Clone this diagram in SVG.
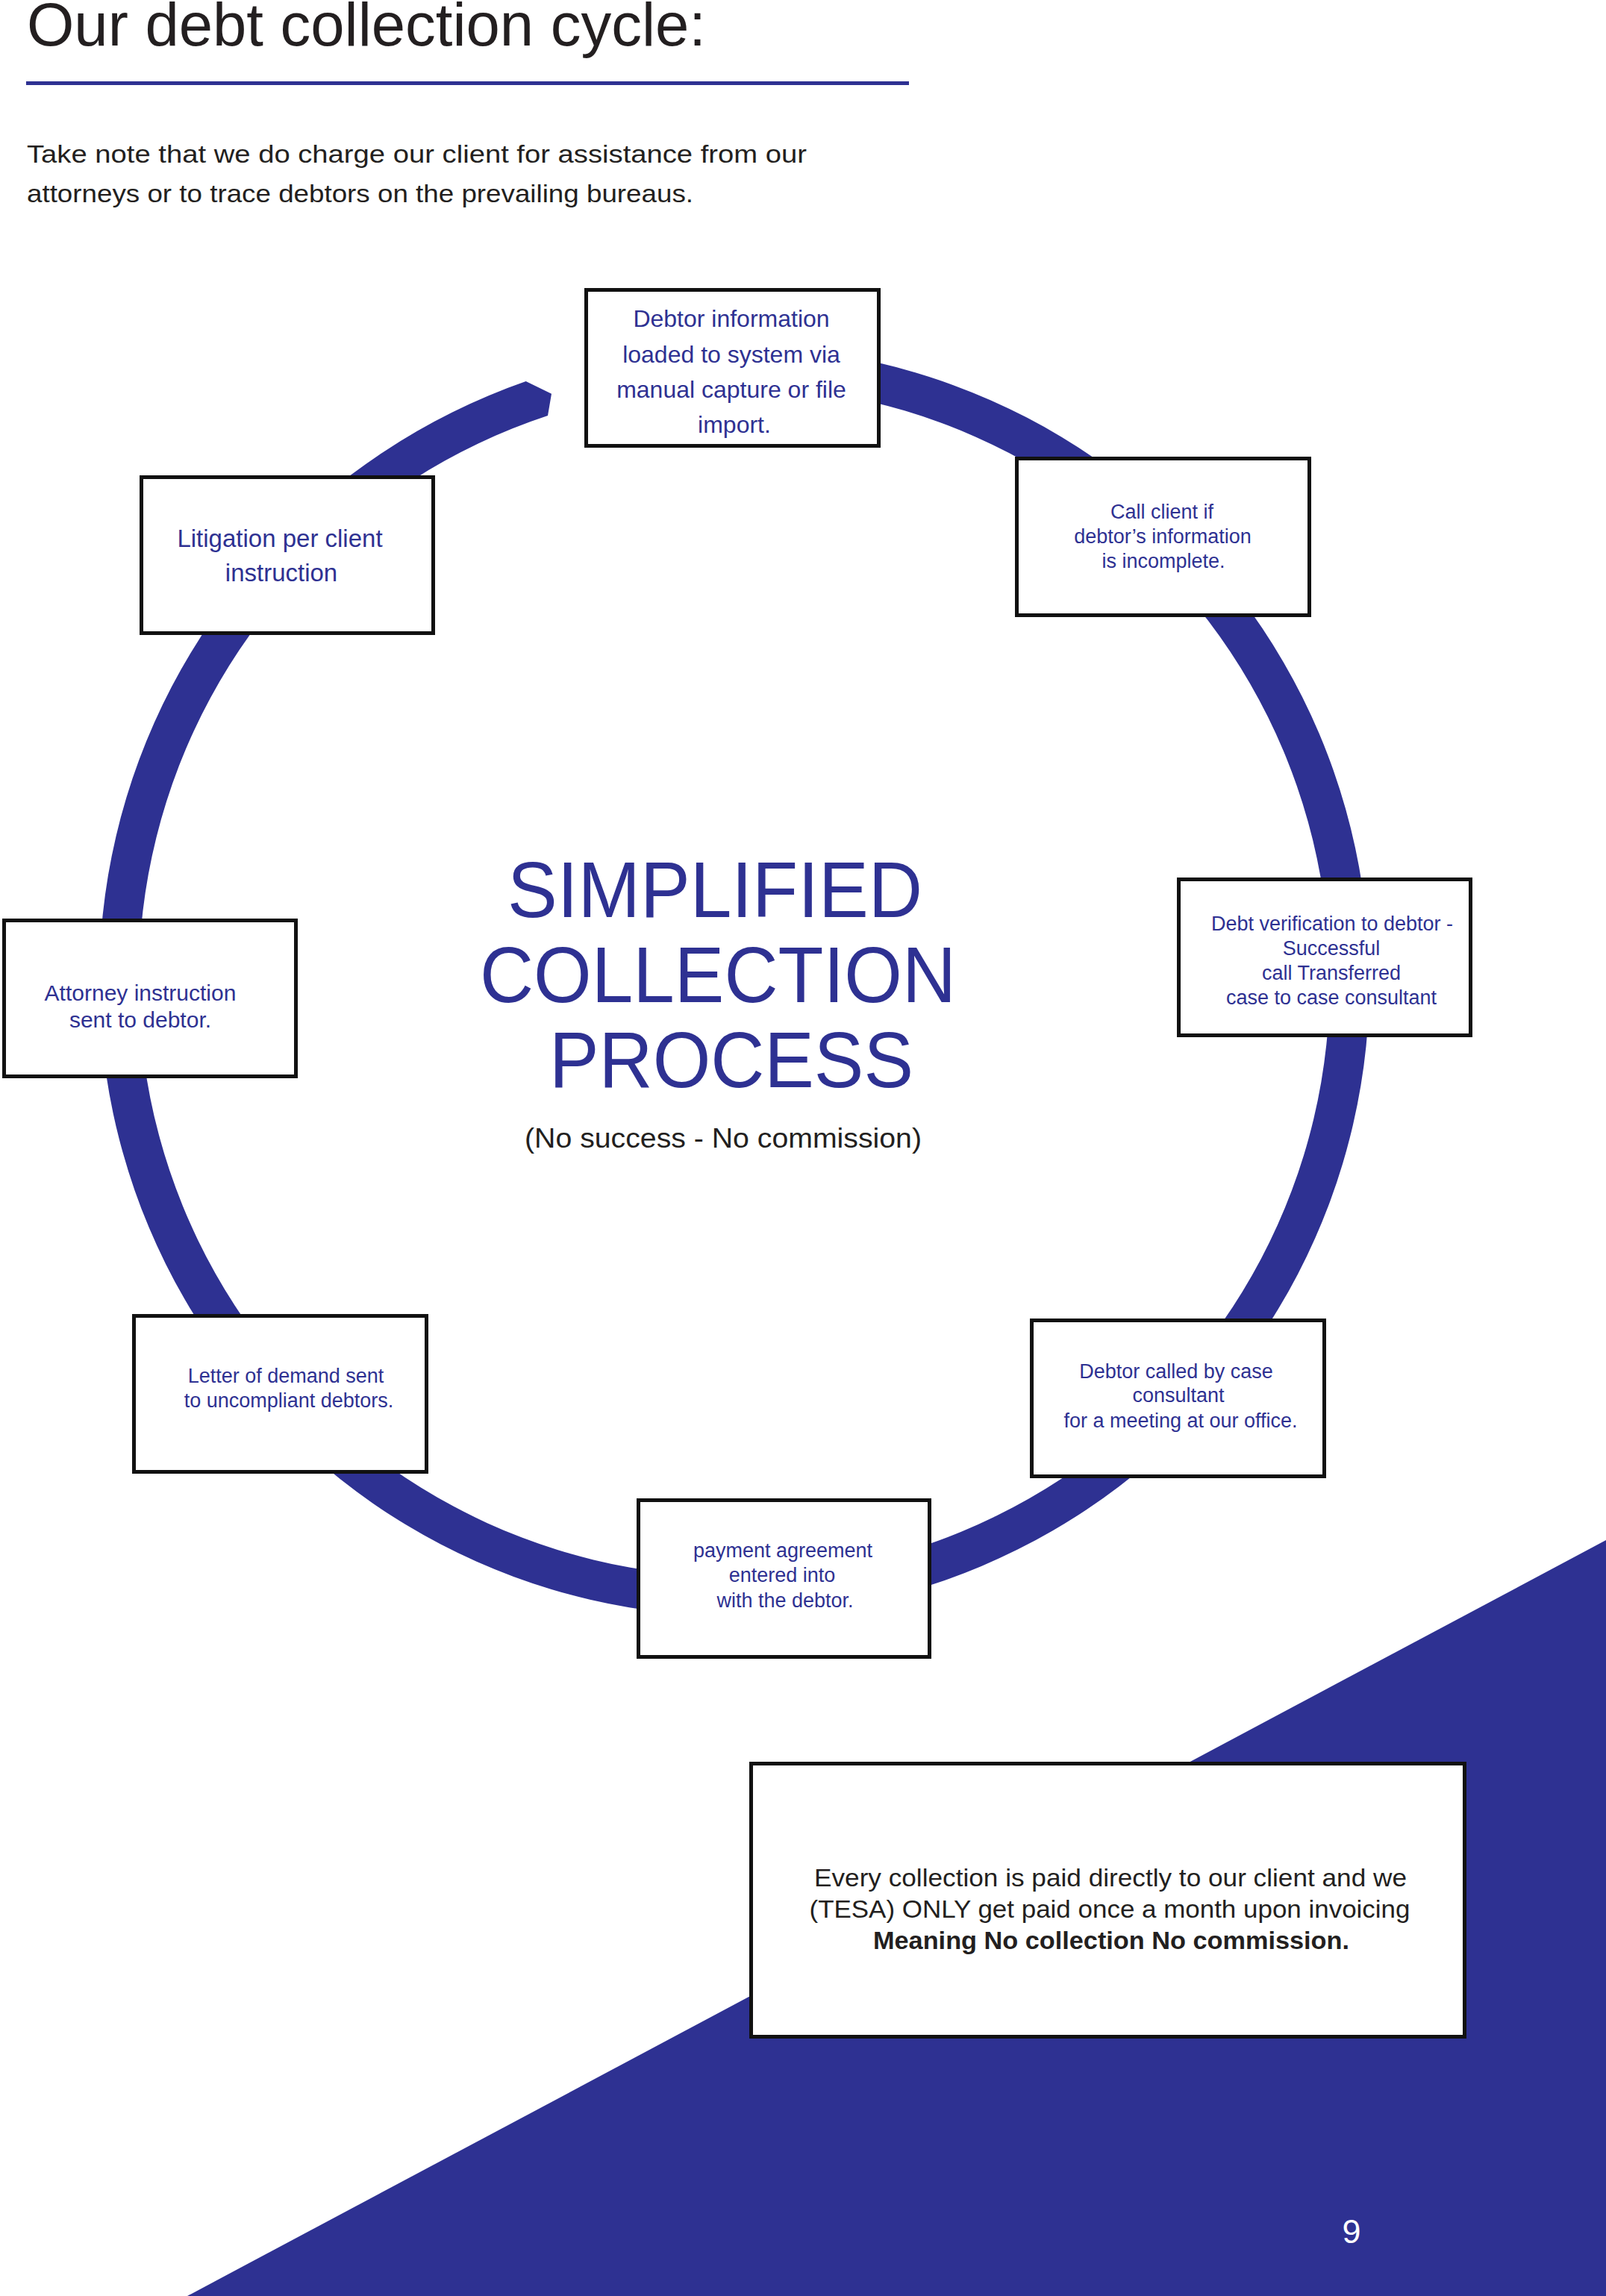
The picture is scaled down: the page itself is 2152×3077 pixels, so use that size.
<svg xmlns="http://www.w3.org/2000/svg" width="2152" height="3077" viewBox="0 0 2152 3077">
<style>
.box{fill:#ffffff;stroke:#111111;stroke-width:5}
.bt{font-family:"Liberation Sans",Arial,sans-serif;fill:#2e3192;text-anchor:middle}
.big{font-family:"Liberation Sans",Arial,sans-serif;fill:#2e3192;font-size:106px}
.blk{font-family:"Liberation Sans",Arial,sans-serif;fill:#231f20}
</style>
<rect x="0" y="0" width="2152" height="3077" fill="#ffffff"/>
<polygon id="corner-triangle" points="2152,2064 2152,3077 251,3077" fill="#2e3192"/>

<g id="header">
<text class="blk" x="36" y="61" font-size="81" textLength="910" lengthAdjust="spacingAndGlyphs">Our debt collection cycle:</text>
<rect x="35" y="109" width="1183" height="5" fill="#2e3192"/>
<text class="blk" x="36" y="218" font-size="33" textLength="1045" lengthAdjust="spacingAndGlyphs">Take note that we do charge our client for assistance from our</text>
<text class="blk" x="36" y="271" font-size="33" textLength="893" lengthAdjust="spacingAndGlyphs">attorneys or to trace debtors on the prevailing bureaus.</text>
</g>

<g id="connectors">
<path id="cycle-ring" d="M 909.8 467.2 A 851 851 0 1 1 704.7 511.1 L 739 527.8 L 734 557.1 A 798 798 0 1 0 914.4 520 Z" fill="#2e3192"/>
</g>

<g id="center-title">
<text class="big" x="680" y="1229" textLength="556" lengthAdjust="spacingAndGlyphs">SIMPLIFIED</text>
<text class="big" x="643" y="1343" textLength="638" lengthAdjust="spacingAndGlyphs">COLLECTION</text>
<text class="big" x="736" y="1457" textLength="488" lengthAdjust="spacingAndGlyphs">PROCESS</text>
<text class="blk" x="703" y="1538" font-size="37" textLength="532" lengthAdjust="spacingAndGlyphs">(No success - No commission)</text>
</g>

<g id="node-debtor-information">
<rect class="box" x="785.5" y="388.5" width="392" height="209"/>
<text class="bt" font-size="32"><tspan x="980" y="438">Debtor information</tspan><tspan x="980" y="486">loaded to system via</tspan><tspan x="980" y="533">manual capture or file</tspan><tspan x="984" y="580">import.</tspan></text>
</g>

<g id="node-call-client">
<rect class="box" x="1362.5" y="614.5" width="392" height="210"/>
<text class="bt" font-size="27"><tspan x="1557" y="695">Call client if</tspan><tspan x="1558" y="728">debtor’s information</tspan><tspan x="1559" y="761">is incomplete.</tspan></text>
</g>

<g id="node-debt-verification">
<rect class="box" x="1579.5" y="1178.5" width="391" height="209"/>
<text class="bt" font-size="27"><tspan x="1785" y="1247">Debt verification to debtor -</tspan><tspan x="1784" y="1280">Successful</tspan><tspan x="1784" y="1313">call Transferred</tspan><tspan x="1784" y="1346">case to case consultant</tspan></text>
</g>

<g id="node-debtor-called">
<rect class="box" x="1382.5" y="1769.5" width="392" height="209"/>
<text class="bt" font-size="27"><tspan x="1576" y="1847">Debtor called by case</tspan><tspan x="1579" y="1879">consultant</tspan><tspan x="1582" y="1913">for a meeting at our office.</tspan></text>
</g>

<g id="node-payment-agreement">
<rect class="box" x="855.5" y="2010.5" width="390" height="210"/>
<text class="bt" font-size="27"><tspan x="1049" y="2087">payment agreement</tspan><tspan x="1048" y="2120">entered into</tspan><tspan x="1052" y="2154">with the debtor.</tspan></text>
</g>

<g id="node-letter-of-demand">
<rect class="box" x="179.5" y="1763.5" width="392" height="209"/>
<text class="bt" font-size="27"><tspan x="383" y="1853">Letter of demand sent</tspan><tspan x="387" y="1886">to uncompliant debtors.</tspan></text>
</g>

<g id="node-attorney-instruction">
<rect class="box" x="5.5" y="1233.5" width="391" height="209"/>
<text class="bt" font-size="30"><tspan x="188" y="1341">Attorney instruction</tspan><tspan x="188" y="1377">sent to debtor.</tspan></text>
</g>

<g id="node-litigation">
<rect class="box" x="189.5" y="639.5" width="391" height="209"/>
<text class="bt" font-size="33"><tspan x="375" y="733">Litigation per client</tspan><tspan x="377" y="779">instruction</tspan></text>
</g>

<g id="note-box">
<rect class="box" x="1006.5" y="2363.5" width="956" height="366"/>
<text class="blk" font-size="33" text-anchor="middle" x="1488" y="2528" textLength="794" lengthAdjust="spacingAndGlyphs">Every collection is paid directly to our client and we</text>
<text class="blk" font-size="33" text-anchor="middle" x="1487" y="2570" textLength="805" lengthAdjust="spacingAndGlyphs">(TESA) ONLY get paid once a month upon invoicing</text>
<text class="blk" font-size="33" text-anchor="middle" font-weight="bold" x="1489" y="2612" textLength="638" lengthAdjust="spacingAndGlyphs">Meaning No collection No commission.</text>
</g>

<text id="page-number" x="1811" y="3006" font-family="'Liberation Sans',Arial,sans-serif" font-size="45" fill="#ffffff" text-anchor="middle">9</text>
</svg>
